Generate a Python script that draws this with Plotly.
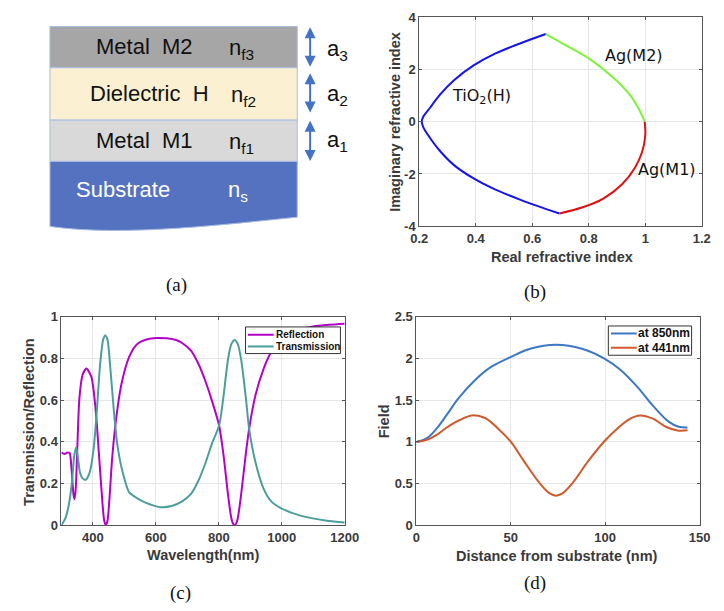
import plotly.graph_objects as go

W, H = 724, 611

# ---------------- Panel (a) schematic content ----------------
layer_names = ["Metal\u00a0 M2", "Dielectric\u00a0 H", "Metal\u00a0 M1", "Substrate"]
layer_index = ["n<sub>f3</sub>", "n<sub>f2</sub>", "n<sub>f1</sub>", "n<sub>s</sub>"]
layer_colors = ["#A6A6A6", "#FBF0D2", "#D9D9D9", "#5572C1"]
layer_text_colors = ["#111111", "#111111", "#111111", "#FFFFFF"]
thick_labels = ["a<sub>3</sub>", "a<sub>2</sub>", "a<sub>1</sub>"]

# ---------------- Panel (b) admittance locus ----------------
tio2_re = [0.648, 0.561, 0.470, 0.391, 0.323, 0.272, 0.237, 0.215, 0.209, 0.215, 0.237, 0.272, 0.323, 0.391,
           0.470, 0.561, 0.696]
tio2_im = [3.364, 3.02, 2.62, 2.15, 1.59, 1.02, 0.52, 0.21, 0.0, -0.225, -0.60, -1.10, -1.66, -2.16,
           -2.60, -3.0, -3.514]
m2_re = [0.648, 0.724, 0.804, 0.884, 0.941, 0.975, 0.998]
m2_im = [3.364, 2.903, 2.405, 1.720, 1.097, 0.536, 0.0]
m1_re = [0.998, 1.000, 0.989, 0.963, 0.918, 0.850, 0.781, 0.696]
m1_im = [0.0, -0.523, -1.146, -1.769, -2.393, -2.953, -3.265, -3.514]
b_labels = ["Ag(M2)", "TiO<sub>2</sub>(H)", "Ag(M1)"]
b_label_re = [0.959, 0.419, 1.076]
b_label_im = [2.53, 0.97, -1.83]

# ---------------- Panel (c) spectra ----------------
wl_R = [300, 305, 310, 316, 320, 326, 332, 338.5, 341.5, 345.5, 350.8, 357, 367, 379.4, 394.8, 408, 420.3,
        430.8, 436, 441, 446, 451, 461.5, 476.9, 492.3, 514.8, 538, 553.7, 580, 605, 635, 666.5, 680.9,
        711.7, 737.2, 757.8, 778.5, 800.9, 814.2, 829.5, 839.8, 845, 850, 855, 860.3, 870.6, 886, 896.3,
        916.9, 942.5, 963, 985, 1010, 1050, 1100, 1150, 1200]
refl = [0.350, 0.345, 0.342, 0.347, 0.349, 0.346, 0.268, 0.143, 0.125, 0.180, 0.393, 0.611, 0.721, 0.752,
        0.713, 0.565, 0.315, 0.096, 0.020, 0.0, 0.020, 0.096, 0.331, 0.549, 0.690, 0.807, 0.866, 0.883,
        0.895, 0.899, 0.897, 0.888, 0.877, 0.838, 0.768, 0.690, 0.596, 0.479, 0.346, 0.143, 0.034, 0.008,
        0.0, 0.008, 0.034, 0.143, 0.346, 0.463, 0.627, 0.752, 0.822, 0.870, 0.905, 0.937, 0.954, 0.962, 0.967]
wl_T = [300, 312.6, 323, 333.2, 340.3, 346.5, 351.7, 358.8, 367, 376.3, 389.5, 401.8, 412.3, 422.5, 432.6,
        438.8, 446, 456.3, 466.5, 476.9, 492.3, 514.8, 540, 565, 614, 650, 680.9, 711.7, 737.2, 757.8,
        778.5, 800.9, 814.2, 829.5, 839.8, 850, 860.3, 870.6, 886, 896.3, 916.9, 942.5, 968.1, 1000,
        1061.5, 1143.6, 1200]
trans = [0.0, 0.034, 0.096, 0.206, 0.331, 0.373, 0.331, 0.253, 0.225, 0.218, 0.253, 0.362, 0.549, 0.768,
         0.892, 0.911, 0.892, 0.736, 0.549, 0.393, 0.268, 0.159, 0.130, 0.110, 0.087, 0.092, 0.112, 0.151,
         0.221, 0.300, 0.393, 0.479, 0.611, 0.799, 0.869, 0.889, 0.869, 0.799, 0.611, 0.463, 0.300, 0.175,
         0.112, 0.080, 0.045, 0.022, 0.013]
c_names = ["Reflection", "Transmission"]

# ---------------- Panel (d) field profiles ----------------
dist_850 = [0, 5.6, 10.8, 15.9, 22.7, 31.3, 39.8, 50.1, 60.3, 74, 87.7, 99.6, 108.2, 116.7, 125.3, 133.8, 138.9, 143.6]
field_850 = [1.0, 1.045, 1.162, 1.318, 1.533, 1.747, 1.903, 2.02, 2.118, 2.165, 2.118, 2.0, 1.864, 1.669,
             1.435, 1.24, 1.182, 1.174]
dist_441 = [0, 5.6, 10.8, 15.9, 22.7, 29.6, 36.4, 43.2, 50.1, 56.9, 65.5, 70.6, 74, 77.4, 82.5, 91.1, 99.6,
            106.5, 113.3, 118.4, 125.3, 132.1, 138.9, 143.6]
field_441 = [1.0, 1.025, 1.084, 1.17, 1.26, 1.318, 1.287, 1.162, 1.0, 0.772, 0.499, 0.382, 0.355, 0.382,
             0.499, 0.772, 1.008, 1.162, 1.279, 1.318, 1.279, 1.182, 1.135, 1.139]
d_names = ["at 850nm", "at 441nm"]

SANS = "Liberation Sans"
TICKC = "#3a3a3a"
AXC = "#555555"
GRID = "#e6e6e6"
C_COLORS = ["#B400C8", "#4C9E9C"]
D_COLORS = ["#3D78C4", "#D2592B"]


def X(px):
    return px / W


def Y(py):
    return 1 - py / H


fig = go.Figure()

# Panel (b)
fig.add_trace(go.Scatter(x=tio2_re, y=tio2_im, mode="lines",
                         line=dict(color="#1414F0", width=2, shape="spline", smoothing=1),
                         xaxis="x", yaxis="y", showlegend=False))
fig.add_trace(go.Scatter(x=m2_re, y=m2_im, mode="lines", line=dict(color="#7FF23A", width=2, shape="spline"),
                         xaxis="x", yaxis="y", showlegend=False))
fig.add_trace(go.Scatter(x=m1_re, y=m1_im, mode="lines", line=dict(color="#E01010", width=2, shape="spline"),
                         xaxis="x", yaxis="y", showlegend=False))

# Panel (c)
fig.add_trace(go.Scatter(x=wl_R, y=refl, mode="lines", name=c_names[0],
                         line=dict(color=C_COLORS[0], width=2, shape="spline", smoothing=0.7),
                         xaxis="x2", yaxis="y2", showlegend=False))
fig.add_trace(go.Scatter(x=wl_T, y=trans, mode="lines", name=c_names[1],
                         line=dict(color=C_COLORS[1], width=2, shape="spline", smoothing=0.7),
                         xaxis="x2", yaxis="y2", showlegend=False))

# Panel (d)
fig.add_trace(go.Scatter(x=dist_850, y=field_850, mode="lines", name=d_names[0],
                         line=dict(color=D_COLORS[0], width=2, shape="spline", smoothing=1),
                         xaxis="x3", yaxis="y3", showlegend=False))
fig.add_trace(go.Scatter(x=dist_441, y=field_441, mode="lines", name=d_names[1],
                         line=dict(color=D_COLORS[1], width=2, shape="spline", smoothing=1),
                         xaxis="x3", yaxis="y3", showlegend=False))


def axis(domain, rng, tickvals, ticktext, anchor):
    return dict(domain=domain, range=rng, tickvals=tickvals, ticktext=ticktext, anchor=anchor,
                showline=True, mirror="ticks", linecolor=AXC, linewidth=1,
                ticks="inside", ticklen=3, tickcolor=AXC,
                showgrid=True, gridcolor=GRID, gridwidth=1, zeroline=False,
                tickfont=dict(family=SANS, size=13, color=TICKC, weight="bold"))


yc = [Y(531.3), Y(317.7)]
fig.update_layout(
    width=W, height=H, margin=dict(l=0, r=0, t=0, b=0),
    paper_bgcolor="white", plot_bgcolor="white", showlegend=False,
    xaxis=axis([X(423.7), X(715.5)], [0.2, 1.2], [0.2, 0.4, 0.6, 0.8, 1.0, 1.2],
               ["0.2", "0.4", "0.6", "0.8", "1", "1.2"], "y"),
    yaxis=axis([Y(224.7), Y(10.7)], [-4, 4], [-4, -2, 0, 2, 4], ["-4", "-2", "0", "2", "4"], "x"),
    xaxis2=axis([X(54.2), X(346.7)], [300, 1200], [400, 600, 800, 1000, 1200],
                ["400", "600", "800", "1000", "1200"], "y2"),
    yaxis2=axis(yc, [0, 1], [0, 0.2, 0.4, 0.6, 0.8, 1.0], ["0", "0.2", "0.4", "0.6", "0.8", "1"], "x2"),
    xaxis3=axis([X(420.7), X(713.2)], [0, 150], [0, 50, 100, 150], ["0", "50", "100", "150"], "y3"),
    yaxis3=axis(yc, [0, 2.5], [0, 0.5, 1, 1.5, 2, 2.5], ["0", "0.5", "1", "1.5", "2", "2.5"], "x3"),
)

shapes = []
annotations = []

# Panel (a) layers
tops = [20, 62.3, 116, 158.3]
bots = [62.3, 116, 158.3]
left, right = 42.3, 297.7
for i in range(3):
    shapes.append(dict(type="rect", xref="paper", yref="paper", x0=X(left), x1=X(right),
                       y0=Y(bots[i]), y1=Y(tops[i]), fillcolor=layer_colors[i],
                       line=dict(color="#A9BCE0", width=1), layer="below"))
p = ("M {:.5f},{:.5f} L {:.5f},{:.5f} L {:.5f},{:.5f} C {:.5f},{:.5f} {:.5f},{:.5f} {:.5f},{:.5f} Z").format(
    X(left), Y(158.3), X(right), Y(158.3), X(right), Y(215.5),
    X(230), Y(222), X(120), Y(236), X(left), Y(225))
shapes.append(dict(type="path", xref="paper", yref="paper", path=p, fillcolor=layer_colors[3],
                   line=dict(color="#A9BCE0", width=1), layer="below"))

name_x = [139.5, 145, 139.5, 118]
name_y = [41, 89, 137, 187]
idx_x = [240, 242, 240, 237]
for i in range(4):
    annotations.append(dict(xref="paper", yref="paper", x=X(name_x[i]), y=Y(name_y[i]), text=layer_names[i],
                            showarrow=False, xanchor="center", yanchor="middle",
                            font=dict(family=SANS, size=22, color=layer_text_colors[i])))
    annotations.append(dict(xref="paper", yref="paper", x=X(idx_x[i]), y=Y(name_y[i] + 2), text=layer_index[i],
                            showarrow=False, xanchor="center", yanchor="middle",
                            font=dict(family=SANS, size=22, color=layer_text_colors[i])))

arr_top = [20.7, 68, 116.7]
arr_bot = [61.7, 108.7, 158.3]
lab_y = [44, 90, 137]
for i in range(3):
    annotations.append(dict(xref="paper", yref="paper", x=X(311), y=Y(arr_top[i]), ax=0,
                            ay=arr_bot[i] - arr_top[i], axref="pixel", ayref="pixel", text="",
                            showarrow=True, arrowside="end+start", arrowhead=2, arrowsize=1.1,
                            arrowwidth=2, arrowcolor="#4472C4"))
    annotations.append(dict(xref="paper", yref="paper", x=X(326), y=Y(lab_y[i]), text=thick_labels[i],
                            showarrow=False, xanchor="left", yanchor="middle",
                            font=dict(family=SANS, size=22, color="#111111")))

# Panel (b) curve labels
for t, xr, yi in zip(b_labels, b_label_re, b_label_im):
    annotations.append(dict(xref="x", yref="y", x=xr, y=yi, text=t, showarrow=False,
                            xanchor="center", yanchor="middle",
                            font=dict(family="DejaVu Sans", size=16, color="#111111")))

# Legends drawn as boxes with sample lines
legends = [
    dict(box=(244.3, 328, 342.3, 355.3), rows=[336, 348], lx=(246.7, 273.3), tx=274.3, size=10,
         names=c_names, colors=C_COLORS),
    dict(box=(619, 327, 705, 357), rows=[334.7, 349.3], lx=(621.7, 648.3), tx=648.3, size=12,
         names=d_names, colors=D_COLORS),
]
for lg in legends:
    x0, y0, x1, y1 = lg["box"]
    shapes.append(dict(type="rect", xref="paper", yref="paper", x0=X(x0), x1=X(x1), y0=Y(y1), y1=Y(y0),
                       fillcolor="white", line=dict(color="#333333", width=1), layer="above"))
    for nm, col, ry in zip(lg["names"], lg["colors"], lg["rows"]):
        shapes.append(dict(type="line", xref="paper", yref="paper", x0=X(lg["lx"][0]), x1=X(lg["lx"][1]),
                           y0=Y(ry), y1=Y(ry), line=dict(color=col, width=2), layer="above"))
        annotations.append(dict(xref="paper", yref="paper", x=X(lg["tx"]), y=Y(ry), text=nm, showarrow=False,
                                xanchor="left", yanchor="middle", xshift=-1,
                                font=dict(family=SANS, size=lg["size"], color="#111111", weight="bold")))

# Axis titles
titles = [
    ("Real refractive index", 570.7, 256.7, 0),
    ("Imaginary refractive index", 398, 117.4, -90),
    ("Wavelength(nm)", 200, 561.7, 0),
    ("Transmission/Reflection", 20, 425, -90),
    ("Distance from substrate (nm)", 565.8, 563.3, 0),
    ("Field", 387, 425, -90),
]
for t, px, py, ang in titles:
    annotations.append(dict(xref="paper", yref="paper", x=X(px), y=Y(py), text=t, showarrow=False,
                            xanchor="center", yanchor="middle", textangle=ang,
                            font=dict(family=SANS, size=14.5, color=TICKC, weight="bold")))

# Panel labels
for t, px, py in [("(a)", 172.7, 285), ("(b)", 543, 292), ("(c)", 177, 601), ("(d)", 543, 591)]:
    annotations.append(dict(xref="paper", yref="paper", x=X(px), y=Y(py), text=t, showarrow=False,
                            xanchor="center", yanchor="middle",
                            font=dict(family="Liberation Serif", size=19, color="#111111")))

fig.update_layout(shapes=shapes, annotations=annotations)
fig.write_html("out.html")
